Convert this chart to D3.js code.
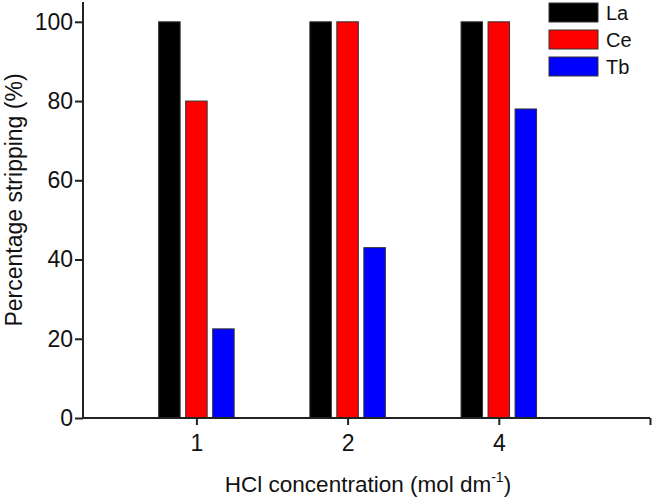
<!DOCTYPE html>
<html>
<head>
<meta charset="utf-8">
<script src="https://cdn.jsdelivr.net/npm/d3@7"></script>
<style>
  body { margin: 0; background: #fff; }
  svg { font-family: "Liberation Sans", Arial, sans-serif; }
</style>
</head>
<body>
<svg id="chart" width="654" height="499"></svg>
<script>
const categories = ['1', '2', '4'];
const metals = ['La', 'Ce', 'Tb'];
const colors = ['#000000', '#ff0000', '#0000ff'];
const laValues = [100, 100, 100];
const ceValues = [80, 100, 100];
const tbValues = [22.5, 43, 78];
const yTicks = [0, 20, 40, 60, 80, 100];

const series = [laValues, ceValues, tbValues];

const svg = d3.select('#chart');
const plotLeft = 83, plotRight = 650, plotTop = 2, plotBottom = 418;

const x = d3.scaleLinear().domain([0.25, 4]).range([plotLeft, plotRight]);
const y = d3.scaleLinear().domain([0, 105]).range([plotBottom, plotTop]);

const barW = 21.5, step = 27;

// bars
series.forEach((vals, s) => {
    svg.append('g').selectAll('rect')
        .data(vals)
        .enter()
        .append('rect')
        .attr('x', (d, i) => x(i + 1) + (s - 1) * step - barW / 2)
        .attr('y', d => y(d))
        .attr('width', barW)
        .attr('height', d => y(0) - y(d))
        .attr('fill', colors[s])
        .attr('stroke', '#333')
        .attr('stroke-width', 1);
});

// y axis
const yAxis = d3.axisLeft(y).tickValues(yTicks).tickSize(8).tickPadding(2);
const gy = svg.append('g')
    .attr('transform', `translate(${plotLeft},0)`)
    .call(yAxis);
gy.select('.domain').attr('d', `M0,${plotTop}V${plotBottom}`);

// x axis
const xAxis = d3.axisBottom(x)
    .tickValues([1, 2, 3, 4])
    .tickFormat((d, i) => categories[i] || '')
    .tickSize(7).tickPadding(10);
const gx = svg.append('g')
    .attr('transform', `translate(0,${plotBottom})`)
    .call(xAxis);
gx.select('.domain').attr('d', `M${plotLeft},0H${plotRight}`);

svg.selectAll('.tick text').attr('font-size', 23).attr('fill', '#111')
    .attr('font-family', '"Liberation Sans", Arial, sans-serif');
svg.selectAll('.domain, .tick line').attr('stroke', '#222').attr('stroke-width', 2);

// axis labels
svg.append('text')
    .attr('transform', 'translate(22,200) rotate(-90)')
    .attr('text-anchor', 'middle')
    .attr('font-size', 23)
    .attr('fill', '#111')
    .text('Percentage stripping (%)');

const xl = svg.append('text')
    .attr('x', 368)
    .attr('y', 492)
    .attr('text-anchor', 'middle')
    .attr('font-size', 22.5)
    .attr('fill', '#111');
xl.append('tspan').text('HCl concentration (mol dm');
xl.append('tspan').attr('font-size', 14).attr('dy', -10).text('-1');
xl.append('tspan').attr('dy', 10).text(')');

// legend
const legend = svg.append('g').attr('transform', 'translate(549,3)');
metals.forEach((m, i) => {
    legend.append('rect')
        .attr('x', 0).attr('y', i * 27)
        .attr('width', 49).attr('height', 19)
        .attr('fill', colors[i])
        .attr('stroke', '#333');
    legend.append('text')
        .attr('x', 57).attr('y', i * 27 + 17)
        .attr('font-size', 20)
        .attr('fill', '#111')
        .text(m);
});
</script>
</body>
</html>
